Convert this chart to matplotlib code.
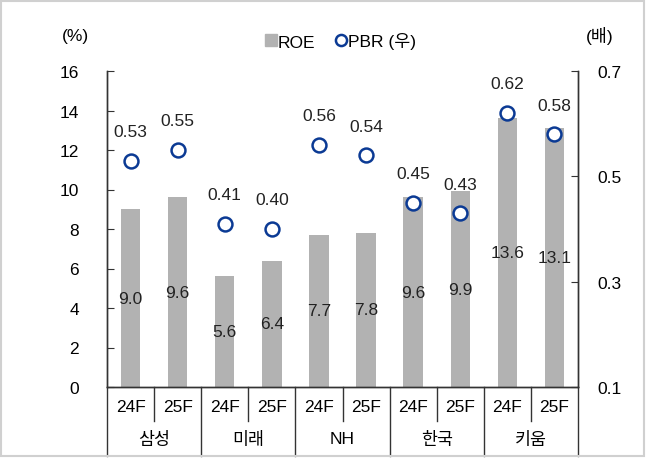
import numpy as np
import matplotlib
matplotlib.use("Agg")
import matplotlib.pyplot as plt
from matplotlib.lines import Line2D
from matplotlib.patches import Rectangle

plt.rcParams['font.family'] = ['Liberation Sans', 'Noto Sans CJK KR', 'DejaVu Sans']

#---------data------
groups = ['삼성', '미래', 'NH', '한국', '키움']
years = ['24F', '25F']
roe = [9.0, 9.6, 5.6, 6.4, 7.7, 7.8, 9.6, 9.9, 13.6, 13.1]
pbr = [0.53, 0.55, 0.41, 0.40, 0.56, 0.54, 0.45, 0.43, 0.62, 0.58]
left_ticks = [0, 2, 4, 6, 8, 10, 12, 14, 16]
right_ticks = [0.1, 0.3, 0.5, 0.7]

bar_color = '#b2b2b2'
pbr_color = '#0b3a94'
fs = 12.5

fig = plt.figure(figsize=(6.49, 4.64), dpi=100)
ax = fig.add_axes([107/649, 1-388/464, 471/649, 316/464])
ax2 = ax.twinx()

x = np.arange(len(roe))
ax.bar(x, roe, width=0.41, color=bar_color, zorder=2)
for xi, v in zip(x, roe):
    ax.text(xi, v/2, f'{v:.1f}', ha='center', va='center', fontsize=fs, color='#222222', zorder=3)

ax2.plot(x, pbr, ls='none', marker='o', ms=10, mfc='white', mec=pbr_color, mew=1.8, zorder=4)
for xi, v in zip(x, pbr):
    ax2.annotate(f'{v:.2f}', (xi, v), xytext=(0, 21), textcoords='offset points',
                 ha='center', va='center', fontsize=fs, color='#222222')

ax.set_xlim(-0.5, len(roe)-0.5)
ax.set_ylim(0, 16)
ax2.set_ylim(0.1, 0.7)
ax.set_yticks(left_ticks)
ax2.set_yticks(right_ticks)
ax2.set_yticklabels([f'{t:.1f}' for t in right_ticks])
ax.tick_params(axis='y', direction='in', length=5, pad=20, labelsize=fs, color='#333333')
ax2.tick_params(axis='y', direction='in', length=5, pad=14, labelsize=fs, color='#333333')
ax.set_xticks([])
for a in (ax, ax2):
    a.spines['top'].set_visible(False)
    for s in ('left', 'right', 'bottom'):
        a.spines[s].set_color('#333333')
        a.spines[s].set_linewidth(1.0)

# category axis below the plot: years and groups with separators
trans = ax.get_xaxis_transform()
y_year = -(422-388)/316
y_group = -(457-388)/316
for i in range(1, len(roe)):
    bottom = y_group if i % 2 == 0 else y_year
    ax.plot([i-0.5, i-0.5], [0, bottom], transform=trans, color='#333333', lw=1.0, clip_on=False)
for edge in (-0.5, len(roe)-0.5):
    ax.plot([edge, edge], [0, y_group], transform=trans, color='#333333', lw=1.0, clip_on=False)
for i in range(len(roe)):
    ax.text(i, -(408-388)/316, years[i % 2], transform=trans, ha='center', va='center', fontsize=fs)
for g, name in enumerate(groups):
    ax.text(2*g+0.5, -(440-388)/316, name, transform=trans, ha='center', va='center', fontsize=fs)

fig.text(75/649, 1-36/464, '(%)', ha='center', va='center', fontsize=fs)
fig.text(600/649, 1-36/464, '(배)', ha='center', va='center', fontsize=fs)

handles = [Line2D([], [], ls='none', marker='s', ms=8, mfc=bar_color, mec=bar_color),
           Line2D([], [], ls='none', marker='o', ms=8, mfc='white', mec=pbr_color, mew=1.8)]
fig.legend(handles, ['ROE', 'PBR (우)'], loc='center', bbox_to_anchor=(341/649, 1-42/464),
           ncol=2, frameon=False, fontsize=fs, handlelength=0.6, handletextpad=0.1,
           columnspacing=1.2)

fig.patches.append(Rectangle((1/649, 1-457/464), 643/649, 455/464, transform=fig.transFigure,
                             fill=False, edgecolor='#d0d0d0', lw=1.5))

fig.savefig('out.png', dpi=100)
